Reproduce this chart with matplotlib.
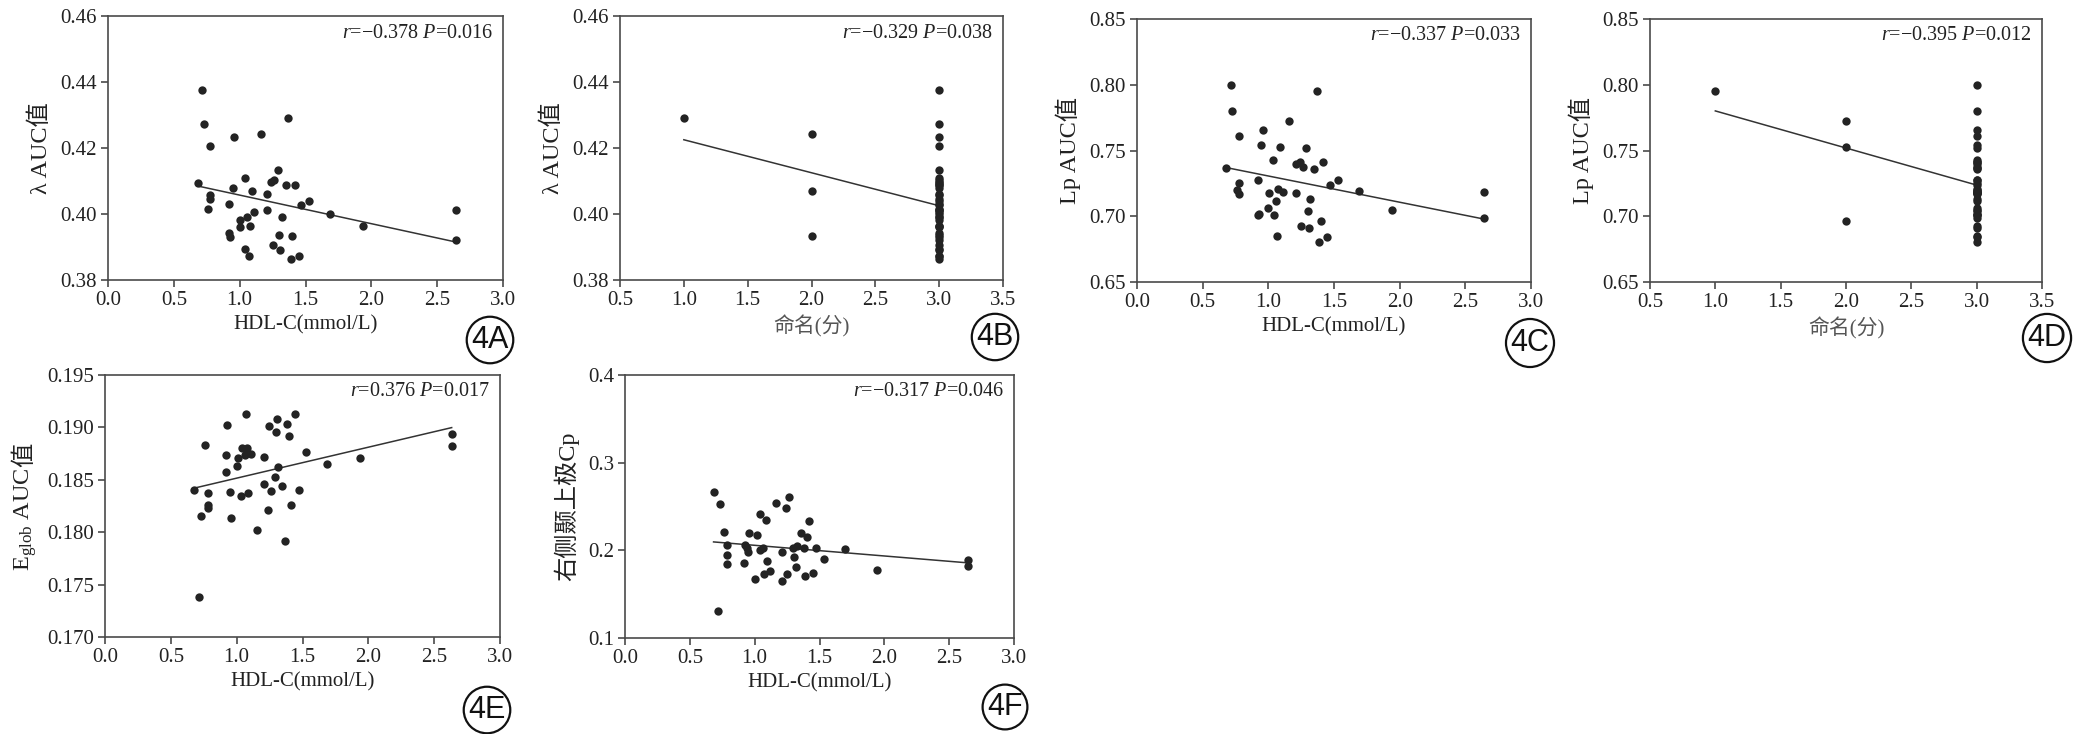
import matplotlib
matplotlib.use('Agg')
import matplotlib.pyplot as plt
from matplotlib.ticker import FormatStrFormatter, MultipleLocator

plt.rcParams['font.family'] = ['Liberation Serif', 'Noto Sans CJK SC']
plt.rcParams['mathtext.fontset'] = 'custom'
plt.rcParams['mathtext.rm'] = 'Liberation Serif'
plt.rcParams['mathtext.it'] = 'Liberation Serif:italic'

# ---- data ----
# 4A  HDL-C vs lambda AUC
hdl_a = [0.716, 0.729, 0.777, 0.681, 0.777, 0.777, 0.759, 0.957, 0.949, 0.919, 0.919,
         0.929, 1.038, 1.005, 1.000, 1.058, 1.081, 1.091, 1.111, 1.038, 1.068, 1.159,
         1.208, 1.208, 1.241, 1.258, 1.289, 1.370, 1.349, 1.418, 1.319, 1.299, 1.251,
         1.309, 1.400, 1.387, 1.451, 1.468, 1.529, 1.689, 1.939, 2.643, 2.643]
lam_a = [0.4376, 0.4272, 0.4205, 0.4093, 0.4058, 0.4044, 0.4016, 0.4232, 0.4080, 0.4030,
         0.3943, 0.3929, 0.4109, 0.3983, 0.3962, 0.3990, 0.3963, 0.4070, 0.4006, 0.3894,
         0.3874, 0.4242, 0.4062, 0.4012, 0.4097, 0.4103, 0.4134, 0.4290, 0.4087, 0.4088,
         0.3992, 0.3936, 0.3905, 0.3892, 0.3932, 0.3864, 0.3872, 0.4027, 0.4038, 0.3999,
         0.3963, 0.4013, 0.3920]
fit_a_x = [0.68, 2.643]
fit_a_y = [0.4085, 0.3915]

# 4B  naming score vs lambda AUC
name_b = [1, 2, 2, 2] + [3] * 39
lam_b = [0.4290, 0.4242, 0.4070, 0.3932,
         0.4376, 0.4272, 0.4205, 0.4093, 0.4058, 0.4044, 0.4016, 0.4232, 0.4080, 0.4030,
         0.3943, 0.3929, 0.4109, 0.3983, 0.3962, 0.3990, 0.3963, 0.4006, 0.3894, 0.3874,
         0.4062, 0.4012, 0.4097, 0.4103, 0.4134, 0.4087, 0.4088, 0.3992, 0.3936, 0.3905,
         0.3892, 0.3864, 0.3872, 0.4027, 0.4038, 0.3999, 0.3963, 0.4013, 0.3920]
fit_b_x = [1.0, 2.98]
fit_b_y = [0.4225, 0.4027]

# 4C  HDL-C vs Lp AUC
hdl_c = [0.716, 0.726, 0.779, 0.678, 0.779, 0.759, 0.779, 0.957, 0.944, 0.919, 0.919,
         0.929, 1.038, 1.005, 1.000, 1.041, 1.061, 1.074, 1.089, 1.112, 1.069, 1.155,
         1.208, 1.208, 1.244, 1.261, 1.289, 1.368, 1.350, 1.419, 1.317, 1.300, 1.249,
         1.310, 1.398, 1.388, 1.447, 1.467, 1.533, 1.690, 1.939, 2.645, 2.645]
lp_c = [0.7997, 0.7801, 0.7608, 0.7367, 0.7252, 0.7199, 0.7173, 0.7656, 0.7542, 0.7275,
        0.7008, 0.7018, 0.7425, 0.7179, 0.7059, 0.7008, 0.7115, 0.7207, 0.7529, 0.7186,
        0.6851, 0.7727, 0.7397, 0.7176, 0.7410, 0.7377, 0.7522, 0.7954, 0.7359, 0.7410,
        0.7130, 0.7039, 0.6929, 0.6912, 0.6963, 0.6805, 0.6846, 0.7237, 0.7273, 0.7191,
        0.7049, 0.7181, 0.6985]
fit_c_x = [0.685, 2.645]
fit_c_y = [0.7369, 0.6978]

# 4D  naming score vs Lp AUC
name_d = [1, 2, 2, 2] + [3] * 39
lp_d = [0.7954, 0.7727, 0.7529, 0.6963,
        0.7997, 0.7801, 0.7608, 0.7367, 0.7252, 0.7199, 0.7173, 0.7656, 0.7542, 0.7275,
        0.7008, 0.7018, 0.7425, 0.7179, 0.7059, 0.7008, 0.7115, 0.7207, 0.7186, 0.6851,
        0.7397, 0.7176, 0.7410, 0.7377, 0.7522, 0.7359, 0.7410, 0.7130, 0.7039, 0.6929,
        0.6912, 0.6805, 0.6846, 0.7237, 0.7273, 0.7191, 0.7049, 0.7181, 0.6985]
fit_d_x = [1.0, 3.0]
fit_d_y = [0.7801, 0.7237]

# 4E  HDL-C vs Eglob AUC
hdl_e = [0.716, 0.727, 0.759, 0.678, 0.780, 0.780, 0.780, 0.929, 0.919, 0.919, 0.949,
         0.954, 1.008, 1.000, 1.038, 1.035, 1.068, 1.078, 1.063, 1.109, 1.089, 1.154,
         1.208, 1.208, 1.248, 1.238, 1.258, 1.309, 1.299, 1.316, 1.289, 1.347, 1.367,
         1.385, 1.397, 1.415, 1.443, 1.471, 1.527, 1.686, 1.937, 2.638, 2.638]
eg_e = [0.17384, 0.18156, 0.18833, 0.18407, 0.18375, 0.18255, 0.18233, 0.19024, 0.18734,
        0.18576, 0.18382, 0.18134, 0.18712, 0.18630, 0.18801, 0.18344, 0.19125, 0.18801,
        0.18738, 0.18744, 0.18372, 0.18017, 0.18719, 0.18464, 0.19011, 0.18213, 0.18395,
        0.19078, 0.18957, 0.18620, 0.18531, 0.18442, 0.17912, 0.19030, 0.18915, 0.18255,
        0.19125, 0.18398, 0.18769, 0.18655, 0.18706, 0.18938, 0.18820]
fit_e_x = [0.696, 2.633]
fit_e_y = [0.18426, 0.18998]

# 4F  HDL-C vs right temporal pole Cp
hdl_f = [0.683, 0.730, 0.719, 0.763, 0.783, 0.783, 0.783, 0.920, 0.927, 0.943, 0.950,
         0.958, 1.015, 1.004, 1.043, 1.043, 1.061, 1.084, 1.092, 1.074, 1.115, 1.161,
         1.212, 1.212, 1.243, 1.261, 1.251, 1.292, 1.305, 1.315, 1.328, 1.354, 1.377,
         1.403, 1.390, 1.420, 1.451, 1.472, 1.534, 1.693, 1.944, 2.646, 2.646]
cp_f = [0.2667, 0.2523, 0.1312, 0.2210, 0.2058, 0.1944, 0.1849, 0.1857, 0.2058, 0.2032,
        0.1982, 0.2195, 0.2172, 0.1678, 0.2412, 0.2009, 0.2032, 0.2348, 0.1879, 0.1735,
        0.1761, 0.2542, 0.1986, 0.1651, 0.2485, 0.2603, 0.1731, 0.2028, 0.1921, 0.1811,
        0.2051, 0.2203, 0.2032, 0.2150, 0.1704, 0.2336, 0.1742, 0.2032, 0.1898, 0.2016,
        0.1780, 0.1887, 0.1818]
fit_f_x = [0.683, 2.646]
fit_f_y = [0.2096, 0.1857]

W, H = 2078, 734
fig = plt.figure(figsize=(W / 100, H / 100), dpi=100)

SPINE = '#4a4a4a'
DOT = '#232323'
CJK = ['Liberation Serif', 'Noto Sans CJK SC']


def panel(px, x, y, fx, fy, xlim, xstep, ylim, ystep, yfmt,
          xlabel, ylabel, note, tag, tagpos, xlabel_color='#222222'):
    l, t, w, h = px
    ax = fig.add_axes([l / W, 1 - (t + h) / H, w / W, h / H])
    ax.scatter(x, y, s=36, color=DOT, linewidths=0, zorder=3, clip_on=False)
    ax.plot(fx, fy, color='#333333', lw=1.1, zorder=2)
    ax.set_xlim(*xlim)
    ax.set_ylim(*ylim)
    ax.xaxis.set_major_locator(MultipleLocator(xstep))
    ax.yaxis.set_major_locator(MultipleLocator(ystep))
    ax.xaxis.set_major_formatter(FormatStrFormatter('%.1f'))
    ax.yaxis.set_major_formatter(FormatStrFormatter(yfmt))
    for s in ax.spines.values():
        s.set_color(SPINE)
        s.set_linewidth(1.2)
    ax.tick_params(direction='out', length=5, width=1.2, color=SPINE,
                   labelsize=15, labelcolor='#222222', pad=3)
    ax.set_xlabel(xlabel, fontsize=15, color=xlabel_color, labelpad=4)
    ax.set_ylabel(ylabel, fontsize=17.5, color='#222222', labelpad=6)
    ax.annotate(note, xy=(1, 1), xycoords='axes fraction', xytext=(-10, -17),
                textcoords='offset pixels', ha='right', va='center',
                fontsize=14.5, color='#222222')
    fig.text(tagpos[0] / W, 1 - tagpos[1] / H, tag, ha='center', va='center',
             fontsize=22, family='Liberation Sans', color='#111111',
             bbox=dict(boxstyle='circle,pad=0.15', fc='white', ec='#111111', lw=1.6))
    return ax


hdl_lbl = 'HDL-C(mmol/L)'
name_lbl = '命名(分)'

panel((108, 16, 395, 264), hdl_a, lam_a, fit_a_x, fit_a_y, (0, 3), 0.5,
      (0.38, 0.46), 0.02, '%.2f', hdl_lbl, 'λ AUC值',
      r'$\mathit{r}$=−0.378 $\mathit{P}$=0.016', '4A', (490, 340))
panel((620, 16, 383, 264), name_b, lam_b, fit_b_x, fit_b_y, (0.5, 3.5), 0.5,
      (0.38, 0.46), 0.02, '%.2f', name_lbl, 'λ AUC值',
      r'$\mathit{r}$=−0.329 $\mathit{P}$=0.038', '4B', (995, 337), '#555555')
panel((1137, 19, 394, 263), hdl_c, lp_c, fit_c_x, fit_c_y, (0, 3), 0.5,
      (0.65, 0.85), 0.05, '%.2f', hdl_lbl, 'Lp AUC值',
      r'$\mathit{r}$=−0.337 $\mathit{P}$=0.033', '4C', (1530, 343))
panel((1650, 19, 392, 263), name_d, lp_d, fit_d_x, fit_d_y, (0.5, 3.5), 0.5,
      (0.65, 0.85), 0.05, '%.2f', name_lbl, 'Lp AUC值',
      r'$\mathit{r}$=−0.395 $\mathit{P}$=0.012', '4D', (2047, 338), '#555555')
axe = panel((105, 375, 395, 262), hdl_e, eg_e, fit_e_x, fit_e_y, (0, 3), 0.5,
            (0.170, 0.195), 0.005, '%.3f', hdl_lbl, r'E$_{\mathrm{glob}}$ AUC',
            r'$\mathit{r}$=0.376 $\mathit{P}$=0.017', '4E', (487, 710))
# CJK character appended after the mathtext part of the label
axe.annotate('值', xy=(0.5, 1.0), xycoords=axe.yaxis.label, rotation=90,
             ha='center', va='bottom', fontsize=17.5, color='#222222', family=CJK)
axe.yaxis.label.set_y(0.45)
panel((625, 375, 389, 263), hdl_f, cp_f, fit_f_x, fit_f_y, (0, 3), 0.5,
      (0.1, 0.4), 0.1, '%.1f', hdl_lbl, '右侧颞上极Cp',
      r'$\mathit{r}$=−0.317 $\mathit{P}$=0.046', '4F', (1005, 707))

fig.savefig('out.png', dpi=100, facecolor='white')
